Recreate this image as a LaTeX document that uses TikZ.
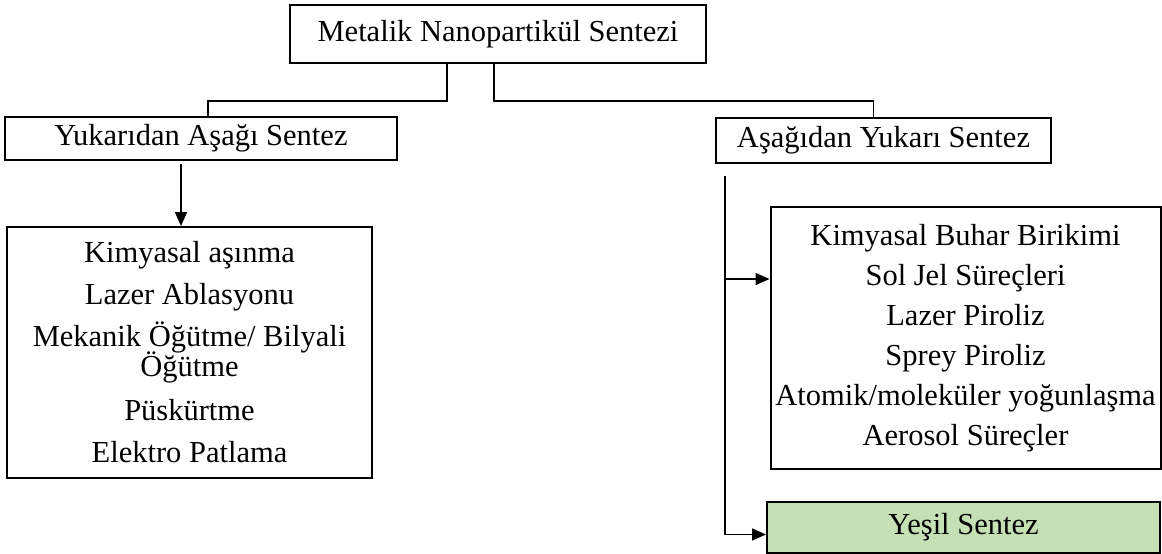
\documentclass[tikz,border=0pt]{standalone}
\usepackage{fontspec}
\setmainfont{Liberation Serif}
\usetikzlibrary{shapes,arrows,arrows.meta,positioning}
\definecolor{yesil}{RGB}{197,224,180}
\begin{document}
\begin{tikzpicture}[x=1pt,y=-1pt]
	\tikzstyle{Box}		= [rectangle, draw, line width=2pt, inner sep=0pt, align=center, font=\fontsize{30.5}{40}\selectfont]
	\tikzstyle{Green}	= [fill=yesil]
	\tikzstyle{Link}	= [line width=1.6pt]
	\tikzstyle{Arrow}	= [Link, -{Triangle[length=14pt,width=12pt]}]

	\useasboundingbox (0,0) rectangle (1162,554);

	\node (root) at (498,34) [Box][minimum width=416pt, minimum height=58pt] {Metalik Nanopartikül Sentezi};
	\node (tdhead) at (201,138.5) [Box][minimum width=392pt, minimum height=43pt] {Yukarıdan Aşağı Sentez};
	\node (buhead) at (883.5,140.5) [Box][minimum width=335pt, minimum height=45pt] {Aşağıdan Yukarı Sentez};
	\node (tdlist) at (189.5,352.5) [Box][minimum width=365pt, minimum height=251pt, font=\fontsize{30.5}{42}\selectfont]
		{Kimyasal aşınma\\ Lazer Ablasyonu\\ Mekanik Öğütme/ Bilyali\\[-12pt] Öğütme\\[2pt] Püskürtme\\ Elektro Patlama};
	\node (bulist) at (965.5,338) [Box][minimum width=390pt, minimum height=262pt]
		{Kimyasal Buhar Birikimi\\ Sol Jel Süreçleri\\ Lazer Piroliz\\ Sprey Piroliz\\ Atomik/moleküler yoğunlaşma\\ Aerosol Süreçler};
	\node (yesil) at (963.5,527.5) [Box][Green][minimum width=393pt, minimum height=51pt] {Yeşil Sentez};

	% root to the two branches
	\draw[Link] ([xshift=-51pt]root.south) -- ++(0,37) -| ([xshift=7pt]tdhead.north);
	\draw[Link] ([xshift=-4pt]root.south) -- ++(0,37) -| ([xshift=-10pt]buhead.north);

	% top-down
	\coordinate (tdout) at ([xshift=-20pt,yshift=-3pt]tdhead.south);
	\draw[Arrow] (tdout) -- (tdout |- tdlist.north);

	% bottom-up
	\coordinate (buout) at ([xshift=10pt,yshift=-12pt]buhead.south west);
	\coordinate (buin) at ([yshift=59pt]bulist.west);
	\draw[Arrow] (buout) |- ([yshift=-7pt]yesil.west);
	\draw[Arrow] (buout |- buin) -- (buin);

\end{tikzpicture}
\end{document}
